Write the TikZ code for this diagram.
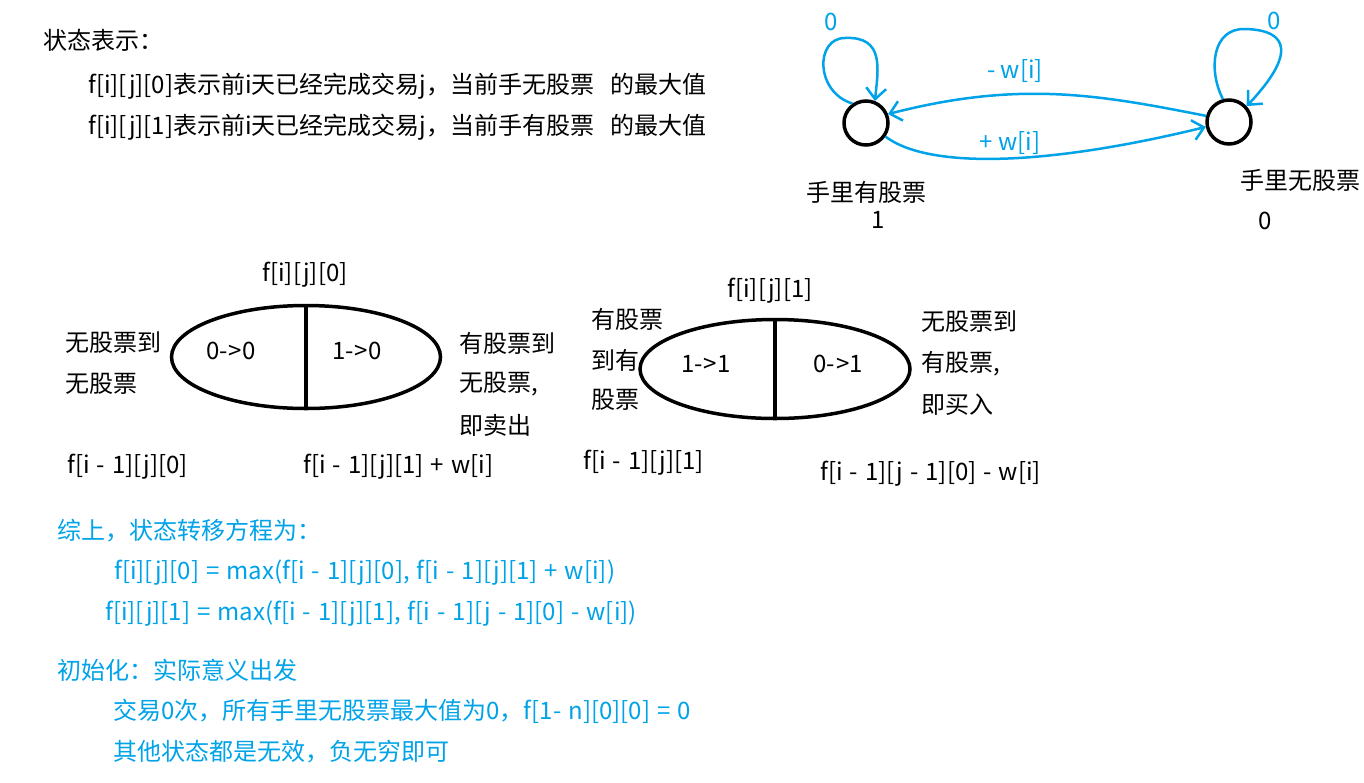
\documentclass[tikz,border=0pt]{standalone}
\usepackage{fontspec}
\setmainfont{Noto Sans CJK SC}
\usetikzlibrary{arrows.meta,shapes.geometric}
\definecolor{inkblue}{RGB}{0,162,232}
\newcommand\diagfont{\fontsize{24}{28}\selectfont}
\newcommand\widespaces{\spaceskip=7pt plus 2pt minus 1pt\relax}
\tikzset{
  txt/.style={inner sep=0pt, anchor=west, font=\diagfont},
  ctxt/.style={txt, anchor=center},
  btxt/.style={txt, text=inkblue},
  state/.style={circle, draw=black, line width=3.5pt, minimum size=44pt, inner sep=0pt},
  split/.style={ellipse, draw=black, line width=3.5pt, inner sep=0pt},
  flow/.style={draw=inkblue, line width=2.5pt, -{Straight Barb[length=11pt,width=20pt,line width=2.5pt]}},
  divider/.style={draw=black, line width=3.5pt}
}
\begin{document}
\begin{tikzpicture}[x=1pt,y=-1pt]
\useasboundingbox (0,0) rectangle (1364,782);
% heading text
\node[txt] (h) at (43,40) {状态表示：};
\node[txt] (l1) at (88,86) {f[i][j][0]表示前i天已经完成交易j，当前手无股票\ \ \ 的最大值};
\node[txt] (l2) at (88,127) {f[i][j][1]表示前i天已经完成交易j，当前手有股票\ \ \ 的最大值};
% state diagram
\node[state] (c1) at (866,123) {};
\node[state] (c2) at (1229,122) {};
\node[ctxt] (c1a) at (866,192) {手里有股票};
\node[ctxt] (c1b) at (878,220) {1};
\node[ctxt] (c2a) at (1300,180) {手里无股票};
\node[ctxt] (c2b) at (1265,221) {0};
\node[ctxt, text=inkblue] (z1) at (831,22) {0};
\node[ctxt, text=inkblue] (z2) at (1274,21) {0};
\node[ctxt, text=inkblue] (mw) at (1015,71) {- w[i]};
\node[ctxt, text=inkblue] (pw) at (1010,143) {+ w[i]};
\draw[flow] (c1.125) .. controls (815,92) and (815,38) .. (845,38)
  .. controls (885,36) and (878,70) .. (c1.68);
\draw[flow] (c2.105) .. controls (1208,70) and (1212,28) .. (1245,29)
  .. controls (1290,30) and (1295,55) .. (c2.42);
\draw[flow] (c2.165) .. controls (1100,95) and (1020,80) .. (c1.22);
\draw[flow] (c1.-35) .. controls (930,170) and (1050,165) .. (c2.192);
% first split ellipse
\node[ctxt] (t1) at (305,275) {f[i][j][0]};
\node[split, minimum width=269pt, minimum height=103pt] (e1) at (306,357) {};
\draw[divider] (e1.north) -- (e1.south);
\node[ctxt] (a1) at (231,351) {0-\kern1pt>0};
\node[ctxt] (a2) at (357,351) {1-\kern1pt>0};
\node[txt] (a3) at (65,343) {无股票到};
\node[txt] (a4) at (65,384) {无股票};
\node[txt] (a5) at (459,343) {有股票到};
\node[txt] (a6) at (459,384) {无股票,};
\node[txt] (a7) at (459,425) {即卖出};
\node[txt] (a8) at (67,467) {\widespaces f[i - 1][j][0]};
\node[txt] (a9) at (303,467) {\widespaces f[i - 1][j][1] + w[i]};
% second split ellipse
\node[ctxt] (t2) at (770,291) {f[i][j][1]};
\node[split, minimum width=270pt, minimum height=99pt] (e2) at (775,369) {};
\draw[divider] (e2.north) -- (e2.south);
\node[ctxt] (b1) at (706,364) {1-\kern1pt>1};
\node[ctxt] (b2) at (838,364) {0-\kern1pt>1};
\node[txt] (b3) at (591,319) {有股票};
\node[txt] (b4) at (591,360) {到有};
\node[txt] (b5) at (591,400) {股票};
\node[txt] (b6) at (921,322) {无股票到};
\node[txt] (b7) at (921,364) {有股票,};
\node[txt] (b8) at (921,405) {即买入};
\node[txt] (b9) at (583,463) {\widespaces f[i - 1][j][1]};
\node[txt] (b10) at (820,474) {\widespaces f[i - 1][j - 1][0] - w[i]};
% blue summary
\node[btxt] (s1) at (57,531) {综上，状态转移方程为：};
\node[btxt] (s2) at (114,573) {\widespaces f[i][j][0] = max(f[i - 1][j][0], f[i - 1][j][1] + w[i])};
\node[btxt] (s3) at (105,614) {\widespaces f[i][j][1] = max(f[i - 1][j][1], f[i - 1][j - 1][0] - w[i])};
\node[btxt] (s4) at (57,670) {初始化：实际意义出发};
\node[btxt] (s5) at (113,711) {\widespaces 交易0次，所有手里无股票最大值为0，f[1- n][0][0] = 0};
\node[btxt] (s6) at (113,752) {其他状态都是无效，负无穷即可};
\end{tikzpicture}
\end{document}
